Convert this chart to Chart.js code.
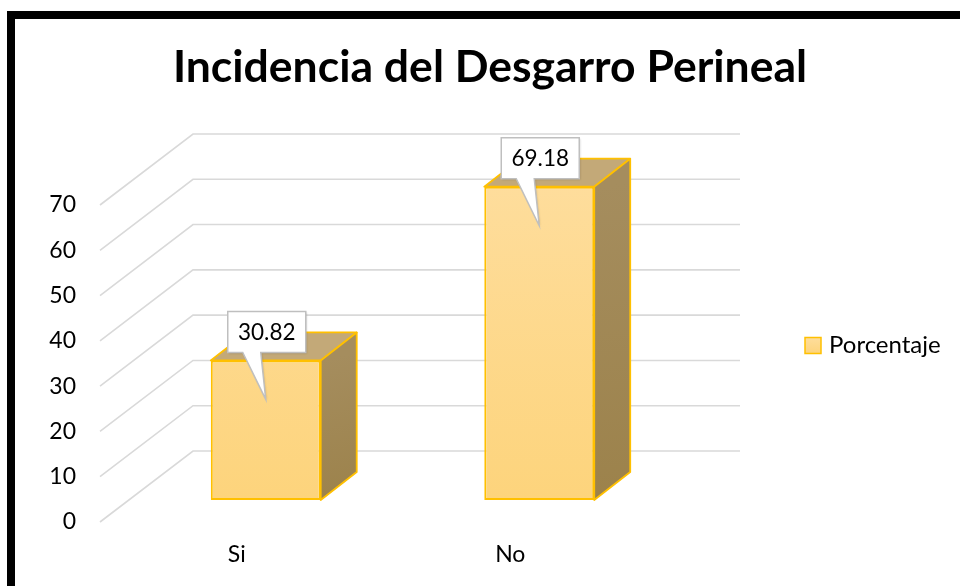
<!DOCTYPE html>
<html><head><meta charset="utf-8">
<script src="https://cdn.jsdelivr.net/npm/chart.js@4.4.1/dist/chart.umd.min.js"></script>
<style>
html,body{margin:0;padding:0;background:#fff;overflow:hidden;width:960px;height:586px;}
#frame{position:absolute;left:7px;top:11px;width:1000px;height:1000px;border-left:8px solid #000;border-top:8px solid #000;}
#c{position:absolute;left:0;top:0;}
</style></head><body>
<div id="frame"></div>
<canvas id="c" width="960" height="586"></canvas>
<script>
// ---- data ----
const chartTitle = 'Incidencia del Desgarro Perineal';
const categories = ['Si', 'No'];
const seriesName = 'Porcentaje';
const porcentaje = [30.82, 69.18];
const yTicks = [0, 10, 20, 30, 40, 50, 60, 70];

// ---- style (oblique 3D offsets relative to the bar plane) ----
const FRONT = {dx: -29, dy: 22};
const BACK = {dx: 64, dy: -49};
const DEPTH = {dx: 36, dy: -28};
const FONT = 'Lato, "Open Sans", sans-serif';
const GOLD = '#FFC000';

function frontGradient(ctx, top, bottom) {
  const g = ctx.createLinearGradient(0, top, 0, bottom);
  g.addColorStop(0, '#FEDD9C');
  g.addColorStop(1, '#FDD47C');
  return g;
}

const bar3d = {
  id: 'bar3d',
  beforeDatasetsDraw(chart) {
    const {ctx, chartArea: a} = chart;
    const y = chart.scales.y;
    ctx.save();
    ctx.strokeStyle = '#D9D9D9';
    ctx.lineWidth = 1.6;
    yTicks.forEach(v => {
      const py = y.getPixelForValue(v);
      ctx.beginPath();
      ctx.moveTo(a.left + FRONT.dx, py + FRONT.dy);
      ctx.lineTo(a.left + BACK.dx, py + BACK.dy);
      ctx.lineTo(a.right + BACK.dx, py + BACK.dy);
      ctx.stroke();
    });
    const meta = chart.getDatasetMeta(0);
    meta.data.forEach(el => {
      const p = el.getProps(['x', 'y', 'base', 'width'], true);
      const x1 = p.x - p.width / 2, x2 = p.x + p.width / 2;
      const top = p.y, base = p.base;
      ctx.lineJoin = 'round';
      ctx.strokeStyle = GOLD;
      ctx.lineWidth = 1.8;
      // top face
      ctx.beginPath();
      ctx.moveTo(x1, top);
      ctx.lineTo(x2, top);
      ctx.lineTo(x2 + DEPTH.dx, top + DEPTH.dy);
      ctx.lineTo(x1 + DEPTH.dx, top + DEPTH.dy);
      ctx.closePath();
      ctx.fillStyle = '#C3A978';
      ctx.fill();
      ctx.stroke();
      // side face
      const sg = ctx.createLinearGradient(x2, top, x2 + DEPTH.dx, base);
      sg.addColorStop(0, '#A58D5E');
      sg.addColorStop(1, '#9C824B');
      ctx.beginPath();
      ctx.moveTo(x2, top);
      ctx.lineTo(x2 + DEPTH.dx, top + DEPTH.dy);
      ctx.lineTo(x2 + DEPTH.dx, base + DEPTH.dy);
      ctx.lineTo(x2, base);
      ctx.closePath();
      ctx.fillStyle = sg;
      ctx.fill();
      ctx.stroke();
    });
    ctx.restore();
  },
  afterDatasetsDraw(chart) {
    const {ctx} = chart;
    const meta = chart.getDatasetMeta(0);
    ctx.save();
    ctx.font = '22.5px ' + FONT;
    meta.data.forEach((el, i) => {
      const p = el.getProps(['x', 'y'], true);
      const text = porcentaje[i].toFixed(2);
      const w = 78, h = 41;
      const cx = p.x + 1;
      const bottom = p.y - 8, topY = bottom - h;
      const left = cx - w / 2, right = cx + w / 2;
      ctx.beginPath();
      ctx.moveTo(left, topY);
      ctx.lineTo(right, topY);
      ctx.lineTo(right, bottom);
      ctx.lineTo(cx - 6, bottom);
      ctx.lineTo(p.x, p.y + 39);
      ctx.lineTo(cx - 24, bottom);
      ctx.lineTo(left, bottom);
      ctx.closePath();
      ctx.shadowColor = 'rgba(0,0,0,0.18)';
      ctx.shadowBlur = 2;
      ctx.shadowOffsetX = 1;
      ctx.shadowOffsetY = 1;
      ctx.fillStyle = '#FFFFFF';
      ctx.fill();
      ctx.shadowColor = 'transparent';
      ctx.strokeStyle = '#BFBFBF';
      ctx.lineWidth = 1.5;
      ctx.stroke();
      ctx.fillStyle = '#000';
      ctx.textAlign = 'center';
      ctx.textBaseline = 'middle';
      ctx.fillText(text, cx, topY + h / 2 + 1);
    });
    ctx.restore();
  },
  afterDraw(chart) {
    const {ctx, chartArea: a} = chart;
    ctx.save();
    const lx = a.right + 129;
    const ly = (a.top + a.bottom) / 2 + 4;
    ctx.fillStyle = frontGradient(ctx, ly - 8, ly + 8);
    ctx.fillRect(lx, ly - 8, 16, 16);
    ctx.strokeStyle = GOLD;
    ctx.lineWidth = 1.5;
    ctx.strokeRect(lx, ly - 8, 16, 16);
    ctx.fillStyle = '#000';
    ctx.font = '24px ' + FONT;
    ctx.textAlign = 'left';
    ctx.textBaseline = 'middle';
    ctx.fillText(seriesName, lx + 24, ly);
    ctx.restore();
  }
};

new Chart(document.getElementById('c'), {
  type: 'bar',
  data: {
    labels: categories,
    datasets: [{
      label: seriesName,
      data: porcentaje,
      backgroundColor: (c) => {
        const a = c.chart.chartArea;
        if (!a) return '#FDD88C';
        return frontGradient(c.chart.ctx, a.top, a.bottom);
      },
      borderColor: GOLD,
      borderWidth: 2,
      borderSkipped: false,
      categoryPercentage: 0.402,
      barPercentage: 1
    }]
  },
  options: {
    responsive: false,
    animation: false,
    layout: {padding: {left: 20, top: 0, right: 0, bottom: 0}},
    plugins: {
      legend: {display: false},
      tooltip: {enabled: false},
      title: {
        display: true,
        text: chartTitle,
        color: '#000',
        font: {family: FONT, size: 44.5, weight: 'bold', lineHeight: 1.2},
        padding: {top: 41.3, bottom: 88.3}
      }
    },
    scales: {
      x: {
        grid: {display: false, drawTicks: false},
        border: {display: false},
        ticks: {color: '#000', font: {family: FONT, size: 23}, labelOffset: FRONT.dx, padding: 41},
        afterFit: (s) => { s.height = 86; }
      },
      y: {
        position: 'left',
        min: yTicks[0],
        max: yTicks[yTicks.length - 1],
        grid: {display: false, drawTicks: false},
        border: {display: false},
        ticks: {stepSize: 10, color: '#000', font: {family: FONT, size: 23}, labelOffset: FRONT.dy, padding: 53},
        afterFit: (s) => { s.width = 109; }
      },
      y2: {
        position: 'right',
        grid: {display: false, drawTicks: false},
        border: {display: false},
        ticks: {display: false},
        afterFit: (s) => { s.width = 284; }
      }
    }
  },
  plugins: [bar3d]
});
</script>
</body></html>
